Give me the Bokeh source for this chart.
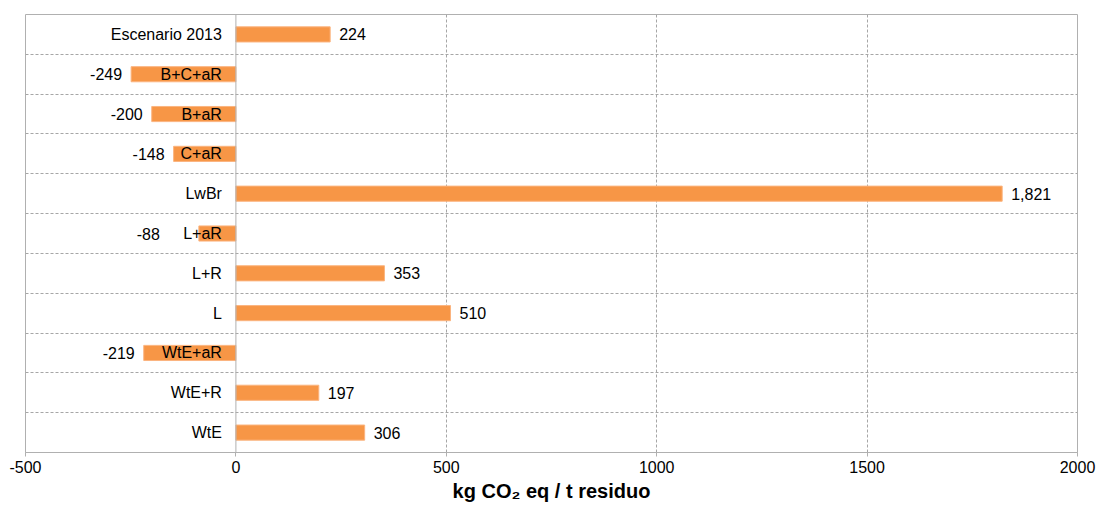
from bokeh.plotting import figure
from bokeh.models import ColumnDataSource, FixedTicker, Span, Range1d
from bokeh.core.properties import value
from bokeh.embed import file_html
from bokeh.resources import INLINE

categories = ["Escenario 2013", "B+C+aR", "B+aR", "C+aR", "LwBr", "L+aR",
              "L+R", "L", "WtE+aR", "WtE+R", "WtE"]
values = [224, -249, -200, -148, 1821, -88, 353, 510, -219, 197, 306]
x_ticks = [-500, 0, 500, 1000, 1500, 2000]
x_tick_labels = ["-500", "0", "500", "1000", "1500", "2000"]
x_title = "kg CO\u2082 eq / t residuo"
# extra pixel shift of value labels (Excel moved the -88 label clear of its category name)
label_shift = [0, 0, 0, 0, 0, -30, 0, 0, 0, 0, 0]

n = len(categories)
ypos = [n - 1 - i for i in range(n)]
FONT = "Liberation Sans"
ORANGE = "#F79646"
GRID = "#a6a6a6"
FS = "16px"

src = ColumnDataSource(dict(y=ypos, v=values, cat=categories))
pos = ColumnDataSource(dict(
    y=[y for y, v in zip(ypos, values) if v >= 0],
    v=[v for v in values if v >= 0],
    lbl=[f"{v:,}" for v in values if v >= 0],
    dx=[9 + s for s, v in zip(label_shift, values) if v >= 0],
))
neg = ColumnDataSource(dict(
    y=[y for y, v in zip(ypos, values) if v < 0],
    v=[v for v in values if v < 0],
    lbl=[f"{v:,}" for v in values if v < 0],
    dx=[-9 + s for s, v in zip(label_shift, values) if v < 0],
))

p = figure(frame_width=1052, frame_height=438, output_backend="svg", toolbar_location=None,
           x_range=Range1d(-500, 2000), y_range=Range1d(-0.5, n - 0.5),
           min_border_left=25, min_border_right=20, min_border_top=14,
           min_border_bottom=10)
p.background_fill_color = "white"
p.border_fill_color = "white"
p.outline_line_color = "#b0b0b0"
p.outline_line_width = 1

p.yaxis.visible = False
p.ygrid.ticker = FixedTicker(ticks=[i + 0.5 for i in range(n - 1)])
p.ygrid.grid_line_color = GRID
p.ygrid.grid_line_dash = "3 2"
p.xgrid.ticker = FixedTicker(ticks=[500, 1000, 1500])
p.xgrid.grid_line_color = GRID
p.xgrid.grid_line_dash = "3 2"

p.xaxis.ticker = FixedTicker(ticks=x_ticks)
p.xaxis.major_label_overrides = {t: s for t, s in zip(x_ticks, x_tick_labels)}
p.xaxis.axis_line_color = "#b0b0b0"
p.xaxis.major_tick_line_color = "#b0b0b0"
p.xaxis.major_tick_out = 4
p.xaxis.major_tick_in = 0
p.xaxis.minor_tick_line_color = None
p.xaxis.major_label_text_font = FONT
p.xaxis.major_label_text_font_size = FS
p.xaxis.major_label_text_color = "#000000"
p.xaxis.major_label_standoff = 4
p.xaxis.axis_label = x_title
p.xaxis.axis_label_text_font = FONT
p.xaxis.axis_label_text_font_size = "20px"
p.xaxis.axis_label_text_font_style = "bold"
p.xaxis.axis_label_text_color = "#000000"
p.xaxis.axis_label_standoff = 4

p.add_layout(Span(location=0, dimension="height", line_color="#b0b0b0", line_width=1))

p.hbar(y="y", left=0, right="v", height=0.38, source=src,
       fill_color=ORANGE, line_color="#fbb47f", line_width=1)

p.text(x=0, y="y", text="cat", source=src, x_offset=-14,
       text_align="right", text_baseline="middle",
       text_font=value(FONT), text_font_size=FS, text_color="#000000")
p.text(x="v", y="y", text="lbl", source=pos, x_offset="dx",
       text_align="left", text_baseline="middle",
       text_font=value(FONT), text_font_size=FS, text_color="#000000")
p.text(x="v", y="y", text="lbl", source=neg, x_offset="dx",
       text_align="right", text_baseline="middle",
       text_font=value(FONT), text_font_size=FS, text_color="#000000")

open("out.html", "w").write(file_html(p, INLINE))
